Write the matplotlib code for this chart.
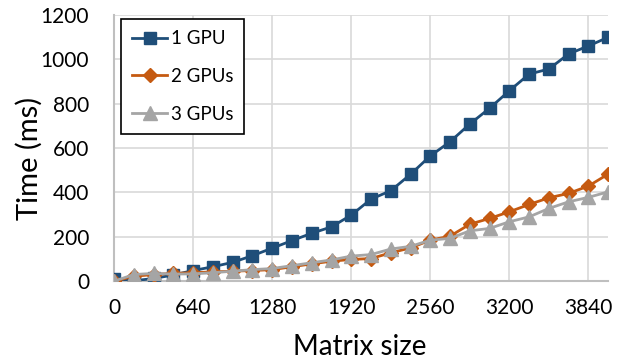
from matplotlib import pyplot as plt
import numpy as np

# Données
taille_matrice = [0, 160, 320, 480, 640, 800, 960, 1120, 1280, 1440, 1600, 1760, 1920,
                  2080, 2240, 2400, 2560, 2720, 2880, 3040, 3200, 3360, 3520, 3680, 3840, 4000]
temps_1gpu = [8, 2, 12, 28, 48, 65, 85, 115, 149, 183, 216, 245, 298,
              370, 408, 482, 565, 629, 709, 780, 859, 934, 957, 1025, 1061, 1100]
temps_2gpu = [0, 22, 30, 35, 38, 42, 45, 48, 52, 65, 78, 90, 98,
              102, 128, 150, 185, 203, 257, 283, 313, 346, 376, 396, 429, 483]
temps_3gpu = [0, 30, 35, 32, 33, 38, 45, 52, 57, 70, 83, 96, 113,
              120, 145, 157, 185, 193, 227, 238, 268, 290, 328, 358, 378, 403]

xticks = [0, 640, 1280, 1920, 2560, 3200, 3840]
yticks = [0, 200, 400, 600, 800, 1000, 1200]

plt.rcParams['font.family'] = ['Lato', 'DejaVu Sans']

fig = plt.figure(figsize=(6.27, 3.6), dpi=100)
ax = fig.add_axes([0.182, 0.219, 0.788, 0.739])

ax.plot(taille_matrice, temps_1gpu, '-s', color='#1F4E79', lw=2, ms=9, label='1 GPU', zorder=3)
ax.plot(taille_matrice, temps_2gpu, '-D', color='#C55A11', lw=2, ms=7.5, label='2 GPUs', zorder=4)
ax.plot(taille_matrice, temps_3gpu, '-^', color='#A5A5A5', lw=2, ms=10, label='3 GPUs', zorder=5)

ax.set_xlim(0, 4000)
ax.set_ylim(0, 1200)
ax.set_xticks(xticks)
ax.set_yticks(yticks)
ax.tick_params(axis='both', length=0, labelsize=15)
ax.tick_params(axis='x', pad=12)
ax.tick_params(axis='y', pad=18)
ax.grid(True, color='#D9D9D9', lw=1.2)
ax.set_axisbelow(True)

for s in ['top', 'right']:
    ax.spines[s].set_visible(False)
for s in ['left', 'bottom']:
    ax.spines[s].set_color('#BFBFBF')
    ax.spines[s].set_linewidth(1.5)

ax.set_xlabel('Matrix size', fontsize=20)
ax.xaxis.set_label_coords(0.498, -0.2)
ax.set_ylabel('Time (ms)', fontsize=21)
ax.yaxis.set_label_coords(-0.145, 0.46)

leg = ax.legend(loc='upper left', bbox_to_anchor=(0.014, 0.985), borderaxespad=0,
                fontsize=13.5, fancybox=False, edgecolor='black', framealpha=1,
                handlelength=1.85, handletextpad=0.2, labelspacing=1.1, borderpad=0.6)
leg.get_frame().set_linewidth(1.2)

plt.savefig('out.png', dpi=100)
